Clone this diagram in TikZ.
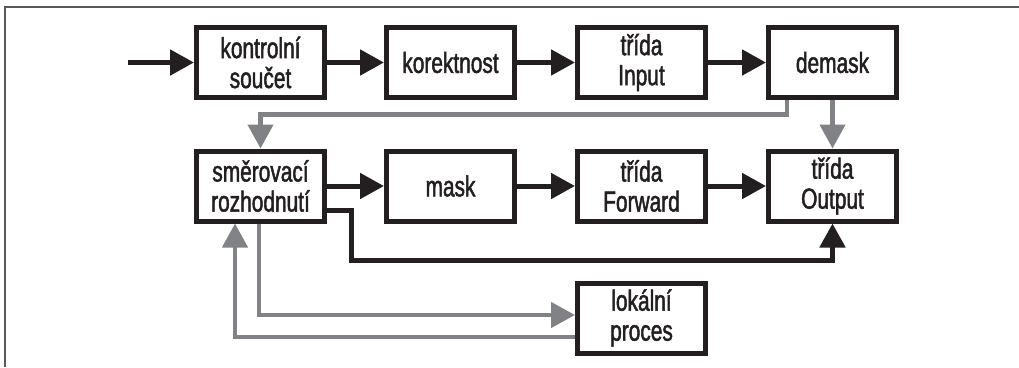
\documentclass[tikz,border=0pt]{standalone}
\usepackage{fontspec}
\setmainfont{Liberation Sans}[FakeStretch=0.72, FakeBold=1.6]
\usetikzlibrary{arrows.meta}
\definecolor{ink}{HTML}{231F20}
\definecolor{route}{HTML}{808285}
\definecolor{framegray}{HTML}{58595B}
\tikzset{
  blockbox/.style={draw=ink, line width=5pt, fill=white, text=ink,
    minimum width=128pt, minimum height=70pt, inner sep=0pt, align=center,
    font=\fontsize{29}{30}\selectfont},
  flowline/.style={draw=ink, line width=5pt, line join=miter,
    -{Triangle[length=24pt,width=25pt]}},
  backline/.style={draw=route, line width=4.5pt, line join=miter,
    -{Triangle[length=24pt,width=25pt]}},
  edge frame/.style={draw=framegray, line width=2pt}
}
\begin{document}
\begin{tikzpicture}[x=1pt, y=-1pt]
  \useasboundingbox (0,0) rectangle (1019,367);

  % open frame: left and top edges only
  \draw[edge frame] (5,367) -- (5,7) -- (1019,7);

  % upper row
  \node[blockbox] (sum)  at (260.5,62.5) {kontrolní\\součet};
  \node[blockbox] (corr) at (450.5,62.5) {korektnost};
  \node[blockbox] (inp)  at (641.5,62.5) {třída\\Input};
  \node[blockbox] (dem)  at (832.5,62.5) {demask};

  % lower row
  \node[blockbox] (rout) at (260.5,186) {směrovací\\rozhodnutí};
  \node[blockbox] (msk)  at (450.5,186) {mask};
  \node[blockbox] (fwd)  at (641.5,186) {třída\\Forward};
  \node[blockbox] (out)  at (832.5,186) {třída\\Output};

  % local process
  \node[blockbox] (loc)  at (641.5,318) {lokální\\proces};

  % helper points for the routed connectors
  \coordinate (src)  at (128,62.5);
  \coordinate (g1)   at (787,114.5);
  \coordinate (b1)   at (351,260);
  \coordinate (g2)   at (259,315);
  \coordinate (g3)   at (235,337);

  % main chain
  \draw[flowline] (src) -- (sum);
  \draw[flowline] (sum) -- (corr);
  \draw[flowline] (corr) -- (inp);
  \draw[flowline] (inp) -- (dem);
  \draw[flowline] (rout.east |- msk) -- (msk);
  \draw[flowline] (msk) -- (fwd);
  \draw[flowline] (fwd) -- (out);

  % demask outputs
  \draw[backline] (dem.south -| g1) |- (rout.north |- g1) -- (rout.north);
  \draw[backline] (dem.south) -- (out.north);

  % routing decision straight to output
  \draw[flowline] ([yshift=-24pt]rout.east) -| (b1) -| (out.south);

  % local process loop
  \draw[backline] (rout.south -| g2) |- (loc.west |- g2);
  \draw[backline] (loc.west |- g3) -| (rout.south -| g3);
\end{tikzpicture}
\end{document}
